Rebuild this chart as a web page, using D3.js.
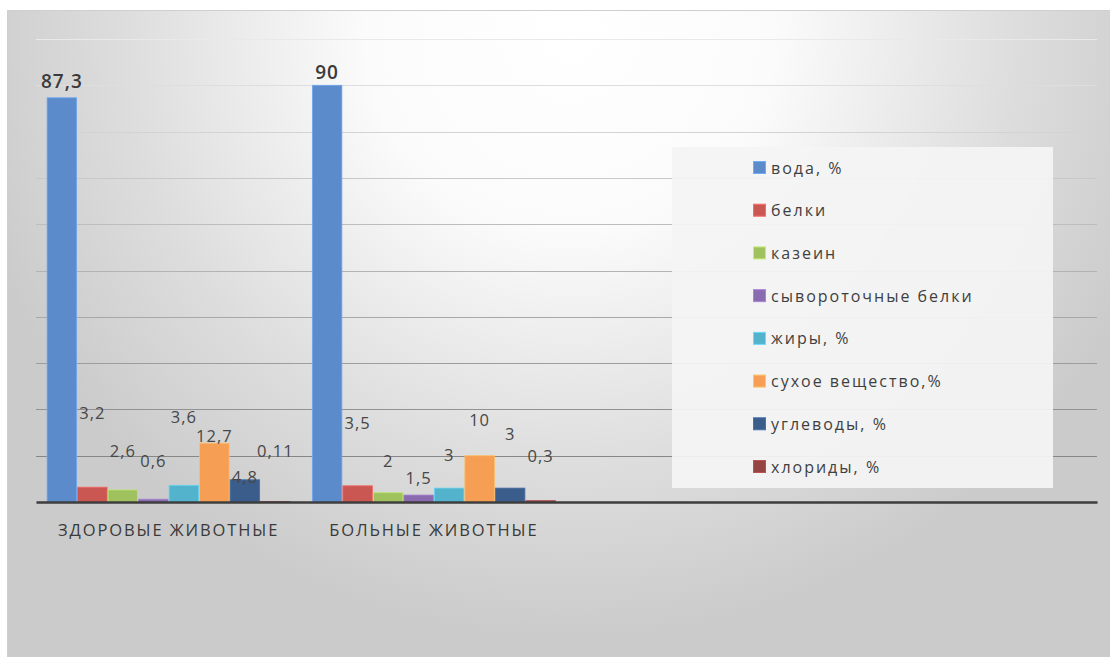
<!DOCTYPE html>
<html>
<head>
<meta charset="utf-8">
<script src="https://cdn.jsdelivr.net/npm/d3@7"></script>
<style>
  html, body { margin: 0; padding: 0; background: #ffffff; }
  svg { display: block; }
  text { font-family: "Open Sans", "Noto Sans", sans-serif; }
</style>
</head>
<body>
<svg id="chart" width="1110" height="657"></svg>
<script>
// Milk composition: healthy vs. sick animals
const categories = ["ЗДОРОВЫЕ ЖИВОТНЫЕ", "БОЛЬНЫЕ ЖИВОТНЫЕ"];
const slotCount = 4; // the category axis keeps two empty slots on the right
const seriesNames = ["вода, %", "белки", "казеин", "сывороточные белки",
                     "жиры, %", "сухое вещество,%", "углеводы, %", "хлориды, %"];
const healthyValues = [87.3, 3.2, 2.6, 0.6, 3.6, 12.7, 4.8, 0.11];
const sickValues    = [90, 3.5, 2, 1.5, 3, 10, 3, 0.3];
const healthyLabels = ["87,3", "3,2", "2,6", "0,6", "3,6", "12,7", "4,8", "0,11"];
const sickLabels    = ["90", "3,5", "2", "1,5", "3", "10", "3", "0,3"];
const yTicks = [10, 20, 30, 40, 50, 60, 70, 80, 90, 100];

// label lift above each bar top (px), as the labels were arranged on the slide
const healthyLift = [16, 74, 39, 38, 68, 7, 3, 50];
const sickLift    = [13, 63, 32, 17, 33, 35, 54, 44];

const colors = ["#5b8bcb", "#cb5753", "#9fc15e", "#8a6bb0",
                "#53b2cc", "#f79e55", "#3a5d8b", "#954442"];

const svg = d3.select("#chart");
const defs = svg.append("defs");

const bg = defs.append("radialGradient")
  .attr("id", "bgGrad")
  .attr("gradientUnits", "userSpaceOnUse")
  .attr("cx", 570).attr("cy", 30).attr("r", 620)
  .attr("gradientTransform", "translate(570,30) scale(1,0.98) translate(-570,-30)");
bg.append("stop").attr("offset", 0).attr("stop-color", "#ffffff");
bg.append("stop").attr("offset", 0.33).attr("stop-color", "#fbfbfb");
bg.append("stop").attr("offset", 0.72).attr("stop-color", "#dddddd");
bg.append("stop").attr("offset", 1).attr("stop-color", "#cbcbcb");

// chart area frame
svg.append("rect")
  .attr("x", 7).attr("y", 10).attr("width", 1103).attr("height", 647)
  .attr("fill", "url(#bgGrad)");
svg.append("path")
  .attr("d", "M7.5,657 V10.5 H1110")
  .attr("fill", "none").attr("stroke", "#cfcfcf").attr("stroke-width", 1);

const plot = { left: 36, right: 1097, top: 39, bottom: 502 };

const x = d3.scaleBand()
  .domain(d3.range(slotCount))
  .range([plot.left, plot.right])
  .paddingInner(0.08)
  .paddingOuter(0.04);

const y = d3.scaleLinear()
  .domain([0, 100])
  .range([plot.bottom, plot.top]);

const xSub = d3.scaleBand()
  .domain(d3.range(seriesNames.length))
  .range([0, x.bandwidth()])
  .padding(0);

// gridlines, fading from light at the top to darker near the axis
const gridShade = d3.interpolateRgb("#e9e9e9", "#7c7c7c");
svg.append("g")
  .selectAll("line")
  .data(yTicks)
  .join("line")
  .attr("x1", plot.left).attr("x2", plot.right)
  .attr("y1", d => Math.round(y(d)) + 0.5)
  .attr("y2", d => Math.round(y(d)) + 0.5)
  .attr("stroke", d => gridShade(1 - d / 100))
  .attr("stroke-width", 1);

const groups = [
  { values: healthyValues, labels: healthyLabels, lift: healthyLift },
  { values: sickValues, labels: sickLabels, lift: sickLift }
];

const gGroups = svg.append("g")
  .selectAll("g")
  .data(groups)
  .join("g")
  .attr("transform", (d, i) => `translate(${x(i)},0)`);

gGroups.selectAll("rect")
  .data(d => d.values)
  .join("rect")
  .attr("x", (d, i) => xSub(i) + 0.5)
  .attr("y", d => y(d))
  .attr("width", xSub.bandwidth() - 1)
  .attr("height", d => y(0) - y(d))
  .attr("fill", (d, i) => colors[i])
  .attr("stroke", (d, i) => d3.color(colors[i]).brighter(0.5))
  .attr("stroke-width", 0.8);

// axis line
const xAxis = d3.axisBottom(x).tickSize(0).tickFormat(i => categories[i] || "");
const axisG = svg.append("g")
  .attr("transform", `translate(0,${plot.bottom})`)
  .call(xAxis);
axisG.select(".domain").attr("stroke", "#3d3d3d").attr("stroke-width", 2.5);
axisG.selectAll(".tick text")
  .attr("dy", "1.85em")
  .attr("fill", "#3a3a3a")
  .style("font-size", "16.5px")
  .style("letter-spacing", "1.9px");

// data labels
gGroups.each(function (grp) {
  d3.select(this).selectAll("text.val")
    .data(grp.values)
    .join("text")
    .attr("class", "val")
    .attr("x", (d, i) => xSub(i) + xSub.bandwidth() / 2)
    .attr("y", (d, i) => y(d) - grp.lift[i])
    .attr("dy", "0.35em")
    .attr("text-anchor", "middle")
    .attr("fill", (d, i) => i === 0 ? "#3a3a3a" : "#474747")
    .style("font-size", (d, i) => i === 0 ? "19px" : "16.5px")
    .style("font-weight", (d, i) => i === 0 ? 600 : 400)
    .style("letter-spacing", "1px")
    .text((d, i) => grp.labels[i]);
});

// legend
const legend = svg.append("g");
legend.append("rect")
  .attr("x", 672).attr("y", 147).attr("width", 381).attr("height", 341)
  .attr("fill", "#f4f4f4").attr("fill-opacity", 0.93);

const legendY = d3.scalePoint()
  .domain(d3.range(seriesNames.length))
  .range([168, 467]);

const items = legend.selectAll("g.item")
  .data(seriesNames)
  .join("g")
  .attr("class", "item")
  .attr("transform", (d, i) => `translate(753,${legendY(i)})`);

items.append("rect")
  .attr("x", 0.5).attr("y", -6.5).attr("width", 12).attr("height", 12)
  .attr("fill", (d, i) => colors[i])
  .attr("stroke", (d, i) => d3.color(colors[i]).brighter(0.6))
  .attr("stroke-width", 1);

items.append("text")
  .attr("x", 18).attr("dy", "0.35em")
  .attr("fill", "#3f3f3f")
  .style("font-size", "16px")
  .style("letter-spacing", "2px")
  .text(d => d);
</script>
</body>
</html>
